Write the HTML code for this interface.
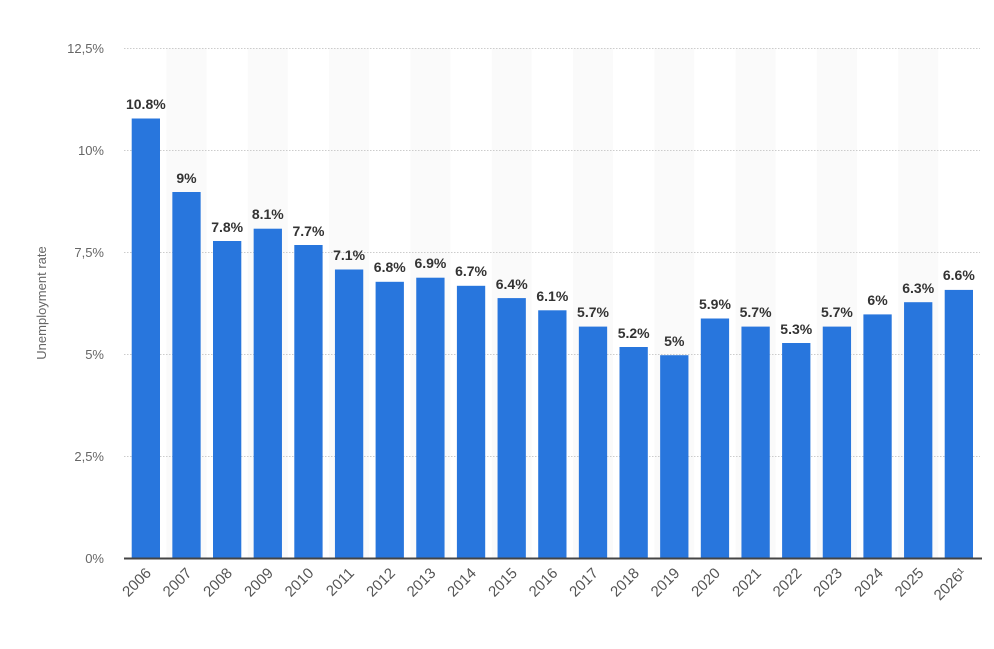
<!DOCTYPE html>
<html><head><meta charset="utf-8"><style>
html,body{margin:0;padding:0;background:#fff;}
svg{display:block;font-family:"Liberation Sans",sans-serif;}
.b{fill:#2876dd;}
.v{font-size:14px;font-weight:bold;fill:#333;text-anchor:middle;}
.y{font-size:13px;fill:#666;text-anchor:end;}
.x{font-size:15px;fill:#555;text-anchor:end;}
.g{stroke:#ccc;stroke-width:1;stroke-dasharray:1.5,1.5;}
</style></head><body>
<svg width="994" height="649" viewBox="0 0 994 649">
<g fill="#fafafa">
<rect x="166.5" y="48" width="40" height="510"/>
<rect x="247.8" y="48" width="40" height="510"/>
<rect x="329.1" y="48" width="40" height="510"/>
<rect x="410.4" y="48" width="40" height="510"/>
<rect x="491.7" y="48" width="40" height="510"/>
<rect x="573" y="48" width="40" height="510"/>
<rect x="654.3" y="48" width="40" height="510"/>
<rect x="735.6" y="48" width="40" height="510"/>
<rect x="816.9" y="48" width="40" height="510"/>
<rect x="898.2" y="48" width="40" height="510"/>
</g>
<line class="g" x1="124" y1="48.5" x2="980" y2="48.5"/>
<line class="g" x1="124" y1="150.5" x2="980" y2="150.5"/>
<line class="g" x1="124" y1="252.5" x2="980" y2="252.5"/>
<line class="g" x1="124" y1="354.5" x2="980" y2="354.5"/>
<line class="g" x1="124" y1="456.5" x2="980" y2="456.5"/>
<text class="y" x="104" y="53">12,5%</text>
<text class="y" x="104" y="155">10%</text>
<text class="y" x="104" y="257">7,5%</text>
<text class="y" x="104" y="359">5%</text>
<text class="y" x="104" y="461">2,5%</text>
<text class="y" x="104" y="563">0%</text>
<text transform="translate(46,303) rotate(-90)" style="font-size:13px;fill:#666;text-anchor:middle">Unemployment rate</text>
<g class="b">
<rect x="131.7" y="118.5" width="28.3" height="439.5"/>
<rect x="172.35" y="192" width="28.3" height="366"/>
<rect x="213" y="241" width="28.3" height="317"/>
<rect x="253.65" y="228.7" width="28.3" height="329.3"/>
<rect x="294.3" y="245" width="28.3" height="313"/>
<rect x="334.95" y="269.5" width="28.3" height="288.5"/>
<rect x="375.6" y="281.8" width="28.3" height="276.2"/>
<rect x="416.25" y="277.7" width="28.3" height="280.3"/>
<rect x="456.9" y="285.8" width="28.3" height="272.2"/>
<rect x="497.55" y="298.1" width="28.3" height="259.9"/>
<rect x="538.2" y="310.3" width="28.3" height="247.7"/>
<rect x="578.85" y="326.6" width="28.3" height="231.4"/>
<rect x="619.5" y="347" width="28.3" height="211"/>
<rect x="660.15" y="355.2" width="28.3" height="202.8"/>
<rect x="700.8" y="318.5" width="28.3" height="239.5"/>
<rect x="741.45" y="326.6" width="28.3" height="231.4"/>
<rect x="782.1" y="343" width="28.3" height="215"/>
<rect x="822.75" y="326.6" width="28.3" height="231.4"/>
<rect x="863.4" y="314.4" width="28.3" height="243.6"/>
<rect x="904.05" y="302.2" width="28.3" height="255.8"/>
<rect x="944.7" y="289.9" width="28.3" height="268.1"/>
</g>
<line x1="124" y1="558.5" x2="982" y2="558.5" stroke="#444" stroke-width="2"/>
<g class="v">
<text x="145.85" y="109">10.8%</text>
<text x="186.5" y="183">9%</text>
<text x="227.15" y="232">7.8%</text>
<text x="267.8" y="219">8.1%</text>
<text x="308.45" y="236">7.7%</text>
<text x="349.1" y="260">7.1%</text>
<text x="389.75" y="272">6.8%</text>
<text x="430.4" y="268">6.9%</text>
<text x="471.05" y="276">6.7%</text>
<text x="511.7" y="289">6.4%</text>
<text x="552.35" y="301">6.1%</text>
<text x="593" y="317">5.7%</text>
<text x="633.65" y="338">5.2%</text>
<text x="674.3" y="346">5%</text>
<text x="714.95" y="309">5.9%</text>
<text x="755.6" y="317">5.7%</text>
<text x="796.25" y="334">5.3%</text>
<text x="836.9" y="317">5.7%</text>
<text x="877.55" y="305">6%</text>
<text x="918.2" y="293">6.3%</text>
<text x="958.85" y="280">6.6%</text>
</g>
<g class="x">
<text transform="translate(152,574) rotate(-45)">2006</text>
<text transform="translate(192.5,574) rotate(-45)">2007</text>
<text transform="translate(233,574) rotate(-45)">2008</text>
<text transform="translate(274,574) rotate(-45)">2009</text>
<text transform="translate(314.5,574) rotate(-45)">2010</text>
<text transform="translate(355,574) rotate(-45)">2011</text>
<text transform="translate(396,574) rotate(-45)">2012</text>
<text transform="translate(436.5,574) rotate(-45)">2013</text>
<text transform="translate(477,574) rotate(-45)">2014</text>
<text transform="translate(518,574) rotate(-45)">2015</text>
<text transform="translate(558.5,574) rotate(-45)">2016</text>
<text transform="translate(599,574) rotate(-45)">2017</text>
<text transform="translate(640,574) rotate(-45)">2018</text>
<text transform="translate(680.5,574) rotate(-45)">2019</text>
<text transform="translate(721,574) rotate(-45)">2020</text>
<text transform="translate(762,574) rotate(-45)">2021</text>
<text transform="translate(802.5,574) rotate(-45)">2022</text>
<text transform="translate(843,574) rotate(-45)">2023</text>
<text transform="translate(884,574) rotate(-45)">2024</text>
<text transform="translate(924.5,574) rotate(-45)">2025</text>
<text transform="translate(967,574) rotate(-45)">2026¹</text>
</g>
</svg>
</body></html>
